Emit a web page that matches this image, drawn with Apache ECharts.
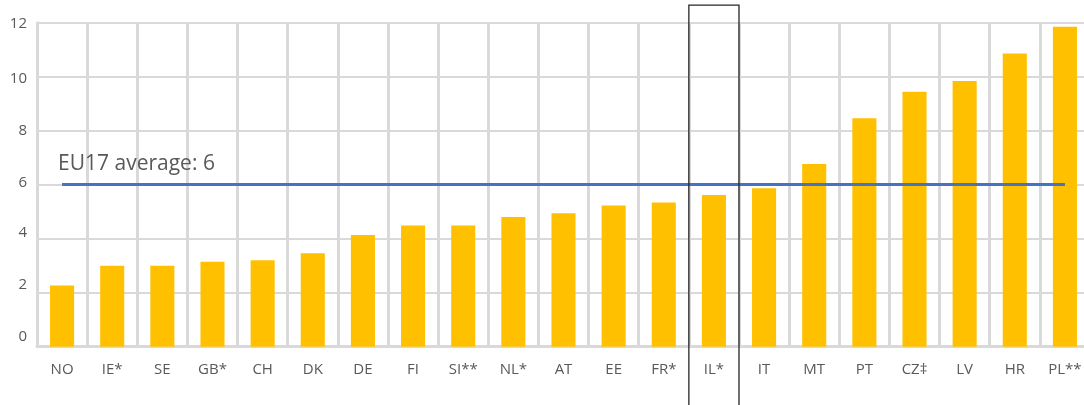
<!DOCTYPE html>
<html>
<head>
<meta charset="utf-8">
<style>
html,body{margin:0;padding:0;background:#fff;}
#chart{width:1084px;height:405px;}
</style>
<script src="https://cdn.jsdelivr.net/npm/echarts@6/dist/echarts.min.js"></script>
</head>
<body>
<div id="chart"></div>
<script>
var categories = ['NO','IE*','SE','GB*','CH','DK','DE','FI','SI**','NL*','AT','EE','FR*','IL*','IT','MT','PT','CZ\u2021','LV','HR','PL**'];
var values = [2.27, 3.0, 3.0, 3.15, 3.2, 3.46, 4.14, 4.49, 4.49, 4.8, 4.94, 5.23, 5.34, 5.62, 5.87, 6.77, 8.46, 9.44, 9.84, 10.86, 11.85];
var averageValue = 6;
var averageLabel = 'EU17 average: 6';
var highlightCategory = 'IL*';
var yTicks = [0, 2, 4, 6, 8, 10, 12];

// small per-label vertical nudges (style only) to mimic the reference's label placement
var labelShift = {0: -10, 2: -8, 4: -6, 6: -2, 8: 0, 10: 2, 12: 1};
var rich = {};
yTicks.forEach(function (v) {
  var d = labelShift[v] || 0;
  rich['t' + v] = {
    fontFamily: 'Open Sans', fontSize: 15, color: '#595959',
    padding: d >= 0 ? [2 * d, 0, 0, 0] : [0, 0, -2 * d, 0]
  };
});

var chart = echarts.init(document.getElementById('chart'));
var option = {
  animation: false,
  grid: { left: 37, top: 22.7, width: 1053, height: 324, containLabel: false, outerBoundsMode: 'none' },
  xAxis: {
    type: 'category',
    data: categories,
    boundaryGap: true,
    axisLine: { show: true, lineStyle: { color: '#d9d9d9', width: 3 } },
    axisTick: { show: false },
    splitLine: { show: true, lineStyle: { color: '#d9d9d9', width: 3 } },
    axisLabel: { interval: 0, margin: 16, fontFamily: 'Open Sans', fontSize: 15, color: '#595959' }
  },
  yAxis: {
    type: 'value',
    min: yTicks[0],
    max: yTicks[yTicks.length - 1],
    interval: 2,
    axisLine: { show: true, lineStyle: { color: '#d9d9d9', width: 3 } },
    axisTick: { show: false },
    splitLine: { show: true, lineStyle: { color: '#d9d9d9', width: 2 } },
    axisLabel: {
      margin: 10,
      formatter: function (v) { return '{t' + v + '|' + v + '}'; },
      rich: rich
    }
  },
  series: [{
    type: 'bar',
    data: values,
    barWidth: '48%',
    itemStyle: { color: '#FFC000' },
    z: 3,
    clip: false,
    markLine: {
      symbol: 'none',
      silent: true,
      z: 5,
      lineStyle: { color: '#4472C4', width: 3, type: 'solid' },
      label: {
        show: true,
        position: 'insideStartTop',
        formatter: averageLabel,
        fontFamily: 'Open Sans',
        fontSize: 21,
        color: '#595959',
        distance: [-4, 10]
      },
      data: [[
        { coord: [categories[0], averageValue] },
        { coord: [categories[categories.length - 1], averageValue] }
      ]]
    }
  }]
};
chart.setOption(option);

// frame around the highlighted category, positioned through the chart's own scales
var idx = categories.indexOf(highlightCategory);
var c = chart.convertToPixel({ xAxisIndex: 0 }, idx);
var c1 = chart.convertToPixel({ xAxisIndex: 0 }, idx + 1);
var band = c1 - c;
var yTop = chart.convertToPixel({ yAxisIndex: 0 }, 12.65);
var yBot = chart.convertToPixel({ yAxisIndex: 0 }, -2.5);
chart.setOption({
  graphic: [{
    type: 'rect',
    z: 100,
    shape: { x: c - band / 2, y: yTop, width: band, height: yBot - yTop },
    style: { fill: 'none', stroke: '#262626', lineWidth: 1.3 }
  }]
});
</script>
</body>
</html>
